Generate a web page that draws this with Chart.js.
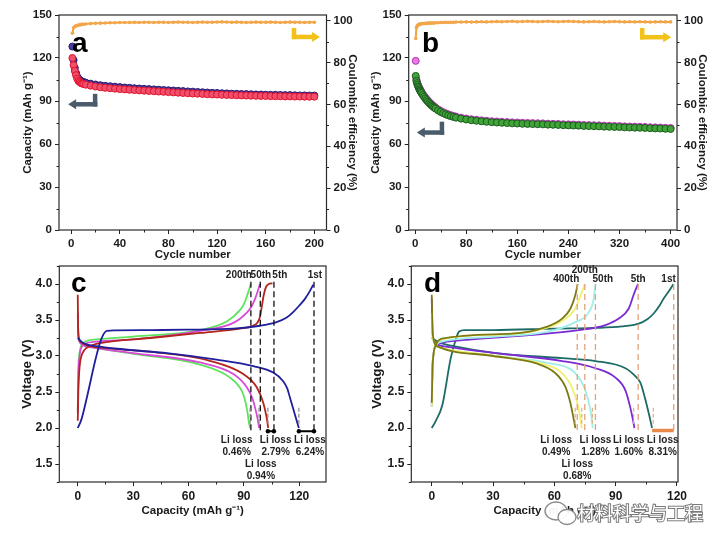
<!DOCTYPE html>
<html><head><meta charset="utf-8">
<script src="https://cdn.jsdelivr.net/npm/chart.js@4.4.0/dist/chart.umd.min.js"></script>
<style>
html,body{margin:0;padding:0;background:#fff;}
#wrap{position:relative;width:723px;height:547px;overflow:hidden;background:#fff;}
canvas{position:absolute;display:block;}
</style></head><body><div id="wrap">
<canvas id="ca" width="362" height="265" style="left:0;top:0;width:362px;height:265px"></canvas>
<canvas id="cb" width="361" height="265" style="left:362px;top:0;width:361px;height:265px"></canvas>
<canvas id="cc" width="362" height="292" style="left:0;top:255px;width:362px;height:292px"></canvas>
<canvas id="cd" width="361" height="292" style="left:362px;top:255px;width:361px;height:292px"></canvas>
</div>
<script>
// ---------------- DATA ----------------
// panel a : cycling, 200 cycles
const aCycles = [1,2,3,4,5,6,7,8,9,10,12,16,20,24,28,32,36,40,44,48,52,56,60,64,68,72,76,80,84,88,92,96,100,104,108,112,116,120,124,128,132,136,140,144,148,152,156,160,164,168,172,176,180,184,188,192,196,200];
const aCharge = [128,118.5,113,109.5,107,105.5,104.6,104,103.6,103.3, 102.8,102.1,101.5,101,100.6,100.3,100,99.7,99.4,99.2, 98.9,98.7,98.5,98.3,98.1,97.9,97.7,97.5,97.3,97.1, 96.9,96.7,96.5,96.3,96.1,95.9,95.7,95.6,95.4,95.3, 95.1,95,94.9,94.8,94.7,94.6,94.5,94.4,94.3,94.3, 94.2,94.1,94.1,94,93.9,93.9,93.8,93.8];
const aDischarge = [120,115,111,108,105.5,104,103.2,102.6,102.2,101.9, 101.4,100.7,100.1,99.6,99.2,98.9,98.6,98.3,98.1,97.8, 97.6,97.4,97.2,97,96.8,96.6,96.4,96.2,96,95.8, 95.6,95.4,95.2,95.1,94.9,94.7,94.6,94.5,94.3,94.2, 94.1,94,93.9,93.8,93.7,93.6,93.5,93.5,93.4,93.3, 93.3,93.2,93.2,93.1,93.1,93,93,93];
const aCE = [94,96.6,97.2,97.5,97.7,97.9,98,98.1,98.2,98.3, 98.4,98.6,98.7,98.8,98.9,99,99,99.1,99.1,99.1, 99.2,99.1,99.2,99.2,99.1,99.2,99.2,99.1,99.2,99.3, 99.2,99.2,99.1,99.2,99.3,99.2,99.2,99.3,99.4,99.3, 99.2,99.3,99.2,99.1,99.2,99.3,99.2,99.2,99.3,99.2, 99.1,99.2,99.3,99.2,99.2,99.1,99.2,99.2];
// panel b : cycling, 400 cycles
const bCycles = [1,2,3,4,5,6,7,8,9,10,12,14,16,18,20,22,24,26,28,30,32,36,40,44,48,52,56,60,64,72,80,88,96,104,112,120,128,136,144,152,160,168,176,184,192,200,208,216,224,232,240,248,256,264,272,280,288,296,304,312,320,328,336,344,352,360,368,376,384,392,400];
const bDischarge = [107.5,104,102.5,101.2,100,99,98,97.2,96.4,95.6, 94.2,92.9,91.7,90.6,89.6,88.6,87.7,86.9,86.1,85.4,84.7, 83.5,82.4,81.5,80.7,80,79.4,78.9,78.4, 77.7,77.1,76.6,76.2,75.8,75.5,75.2,75,74.8,74.6,74.4,74.3,74.1,74,73.9,73.8,73.7,73.5,73.4,73.3,73.1,73,72.9,72.8,72.6,72.5,72.4,72.3,72.1,72,71.9,71.8,71.6,71.5,71.4,71.3,71.2,71,70.9,70.8,70.6,70.5];
const bCharge = [118,105.2,103.3,101.9,100.7,99.7,98.7,97.9,97.1,96.3, 94.9,93.6,92.4,91.3,90.3,89.3,88.4,87.6,86.8,86.1,85.4, 84.2,83.1,82.2,81.4,80.7,80.1,79.6,79.1, 78.4,77.8,77.3,76.9,76.5,76.2,75.9,75.7,75.5,75.3,75.1,75,74.8,74.7,74.6,74.5,74.4,74.2,74.1,74,73.8,73.7,73.6,73.5,73.3,73.2,73.1,73,72.8,72.7,72.6,72.5,72.3,72.2,72.1,72,71.9,71.7,71.6,71.5,71.3,71.2];
const bCE = [91.5,96.5,97.3,97.7,98,98.2,98.3,98.4,98.5,98.5, 98.6,98.6,98.7,98.7,98.8,98.8,98.8,98.9,98.9,98.9,99, 99,99.1,99.1,99.2,99.1,99.2,99.2,99.3, 99.3,99.4,99.3,99.4,99.5,99.4,99.5,99.6,99.5,99.6, 99.7,99.5,99.6,99.7,99.6,99.5,99.6,99.7,99.6,99.5, 99.6,99.7,99.6,99.5,99.4,99.5,99.6,99.5,99.4,99.5, 99.6,99.5,99.4,99.5,99.4,99.5,99.4,99.3,99.4,99.5, 99.4,99.4];

// panel c : voltage profiles (capacity, voltage)
const c1ChgCap = [0,2,4.9,9.4,12,13.9,15.7,20,40,59,84.3,98.7,107.7,113,116.7,120,123,125.5,127.6];
const c1ChgV   = [2.0,2.12,2.42,2.93,3.18,3.30,3.35,3.355,3.36,3.365,3.38,3.42,3.47,3.53,3.61,3.70,3.79,3.89,3.99];
const c1DisCap = [0,3,12.1,30,48.2,75.2,95.1,105.9,111.3,113.5,115,117.6,119.8];
const c1DisV   = [3.25,3.18,3.13,3.08,3.04,2.95,2.86,2.77,2.65,2.55,2.42,2.19,2.0];
const c5ChgCap = [0,0.3,1,2,3.5,6,12.1,39.1,66.2,87.9,95,97.5,98.8,99.8,100.8,102,103.5,105.5];
const c5ChgV   = [2.1,2.5,2.85,3.0,3.08,3.13,3.18,3.25,3.32,3.38,3.42,3.47,3.55,3.7,3.85,3.96,4.0,4.01];
const c5DisCap = [0,0.2,0.6,1.5,4.9,20,39.1,72,89.7,96.9,100.5,102.3,103.2];
const c5DisV   = [3.85,3.4,3.25,3.2,3.15,3.1,3.06,2.93,2.75,2.57,2.35,2.15,2.0];
const c50ChgCap = [0,0.3,1,2,4,10,30.1,66.2,84.3,91.5,94,96,97.5,98.7];
const c50ChgV   = [2.2,2.7,3.0,3.12,3.17,3.2,3.23,3.35,3.46,3.6,3.68,3.79,3.9,4.0];
const c50DisCap = [0,0.3,1,3,8,30.1,66.2,84.3,91.5,94.5,96,97.5,98.3];
const c50DisV   = [3.6,3.3,3.2,3.15,3.12,3.04,2.91,2.75,2.57,2.42,2.29,2.12,2.0];
const c200ChgCap = [0,0.3,1,2,4,10,30.1,66.2,80.7,88,90,91.5,92.8,93.7];
const c200ChgV   = [2.25,2.8,3.05,3.15,3.2,3.23,3.27,3.36,3.48,3.64,3.72,3.82,3.92,4.0];
const c200DisCap = [0,0.3,1,3,8,30.1,66.2,82.5,88.8,90.5,91.8,92.6,93.3];
const c200DisV   = [3.55,3.3,3.2,3.15,3.12,3.03,2.88,2.70,2.52,2.4,2.24,2.1,2.0];

// panel d : voltage profiles (capacity, voltage)
const d1ChgCap = [0,2,5.2,9.3,12,13.4,16,30,60,80,93,101.3,105.5,108.6,111.5,113.5,116,118.3];
const d1ChgV   = [2.0,2.1,2.32,2.97,3.25,3.34,3.36,3.36,3.38,3.39,3.41,3.45,3.51,3.59,3.7,3.8,3.9,4.0];
const d1DisCap = [0,3.6,12,31.3,63.8,80.1,94.8,99.6,102.1,104.3,106.3,107.8];
const d1DisV   = [3.25,3.19,3.13,3.04,2.97,2.93,2.83,2.72,2.63,2.42,2.19,2.0];
const d5ChgCap = [0,0.3,1,2,4,15,47.6,72,85,91.5,96.4,98.8,100,101];
const d5ChgV   = [2.3,2.8,3.05,3.15,3.18,3.22,3.29,3.36,3.43,3.52,3.66,3.85,3.94,4.0];
const d5DisCap = [0,0.3,1,3.6,12,31.3,63.8,80.1,89.9,94.8,97.2,98.4,99.2];
const d5DisV   = [3.8,3.4,3.22,3.15,3.11,3.04,2.93,2.83,2.70,2.52,2.28,2.12,2.0];
const d50ChgCap = [0,0.5,2,5,31.3,55.7,70.3,76.9,79.3,80.1];
const d50ChgV   = [2.3,2.9,3.15,3.2,3.27,3.33,3.47,3.61,3.8,4.0];
const d50DisCap = [0,0.5,3.6,31.3,57.3,70.3,75.2,77.7,78.8];
const d50DisV   = [3.55,3.25,3.12,3.0,2.9,2.76,2.52,2.24,2.0];
const d200ChgCap = [0,0.5,2,5,35,55,64.5,70,73,74.9];
const d200ChgV   = [2.3,2.9,3.15,3.23,3.3,3.38,3.5,3.65,3.85,4.0];
const d200DisCap = [0,0.5,3.6,31.3,53,63.5,68.5,71.5,72.8,73.4];
const d200DisV   = [3.6,3.25,3.12,3.0,2.9,2.77,2.57,2.32,2.12,2.0];
const d400ChgCap = [0,0.5,2,5,39.4,55.7,63.8,67.9,70.3,71.4];
const d400ChgV   = [2.35,2.9,3.15,3.24,3.31,3.40,3.52,3.66,3.85,4.0];
const d400DisCap = [0,0.5,3,30,50.8,60.6,65.4,67.9,70.3];
const d400DisV   = [3.85,3.3,3.13,3.0,2.9,2.76,2.57,2.34,2.0];

// tick labels
const abCapTicks = [0,30,60,90,120,150];
const abCETicks = [0,20,40,60,80,100];
const aXTicks = [0,40,80,120,160,200];
const bXTicks = [0,80,160,240,320,400];
const cdVTicks = [1.5,2.0,2.5,3.0,3.5,4.0];
const cdXTicks = [0,30,60,90,120];

// annotations (c, d)
const cCycleNames = ['200th','50th','5th','1st'];
const cCycleLabelCap = [87.3,99.2,109.5,128.5];
const cLossCap = [93.8,98.9,106.3,128];
const cEndCap = [93.4,98.2,103.0,119.8];
const cLossText = ['0.46%','0.94%','2.79%','6.24%'];
const cLossLabelCap = [86.1,99.2,107.2,125.8];
const dCycleNames = ['400th','200th','50th','5th','1st'];
const dCycleLabelCap = [65.8,74.9,83.7,101,115.9];
const dLossCap = [71.2,74.9,80.1,101,118.4];
const dEndCap = [70.2,73.4,78.6,98.8,108.4];
const dLossText = ['0.49%','0.68%','1.28%','1.60%','8.31%'];
const dLossLabelCap = [60.9,71.2,80.1,96.4,113];

// ---------------- HELPERS ----------------
const FONT = "'Liberation Sans', Arial, sans-serif";
const TXT = '#1a1a1a';
const zip = (xs, ys) => xs.map((x, i) => ({x, y: ys[i]}));

function scale(pos, min, max, ticks, fit, title, titlePad, tickSize, fmt, titleSize) {
  return {
    type: 'linear', position: pos, min, max,
    afterBuildTicks: s => { s.ticks = ticks.map(v => ({value: v})); },
    afterFit: s => { if (pos === 'bottom') s.height = fit; else s.width = fit; },
    grid: {display: true, drawOnChartArea: false, drawTicks: true, tickLength: 4, color: '#222', lineWidth: 1},
    border: {display: false},
    ticks: {color: TXT, font: {family: FONT, size: tickSize, weight: 'bold'}, padding: 3, autoSkip: false, maxRotation: 0,
      callback: v => fmt ? fmt(v) : String(v)},
    title: {display: true, text: title, color: TXT, font: {family: FONT, size: titleSize || 11.5, weight: 'bold'}, padding: titlePad}
  };
}

function deco(minorIds, extra) {
  return {
    id: 'deco',
    afterDraw(chart) {
      const ctx = chart.ctx, ca = chart.chartArea;
      ctx.save();
      ctx.strokeStyle = '#222'; ctx.lineWidth = 1;
      minorIds.forEach(id => {
        const s = chart.scales[id];
        const vals = s.ticks.map(t => t.value);
        const step = vals[1] - vals[0];
        ctx.beginPath();
        for (let k = -1; k < vals.length; k++) {
          const v = vals[0] + step * (k + 0.5);
          if (v < s.min || v > s.max) continue;
          const p = Math.round(s.getPixelForValue(v)) + 0.5;
          if (s.position === 'bottom') { ctx.moveTo(p, ca.bottom); ctx.lineTo(p, ca.bottom + 2.5); }
          else if (s.position === 'left') { ctx.moveTo(ca.left, p); ctx.lineTo(ca.left - 2.5, p); }
          else { ctx.moveTo(ca.right, p); ctx.lineTo(ca.right + 2.5, p); }
        }
        ctx.stroke();
      });
      ctx.lineWidth = 1.2; ctx.strokeStyle = '#2a2a2a';
      ctx.strokeRect(ca.left, ca.top, ca.right - ca.left, ca.bottom - ca.top);
      ctx.restore();
      if (extra) { ctx.save(); extra(chart, ctx); ctx.restore(); }
    }
  };
}

function lArrow(ctx, X, Y, xv, yTop, yH, xTip, color) {
  const px = X(xv), pt = Y(yTop), ph = Y(yH), tip = X(xTip);
  const dir = tip < px ? -1 : 1;
  ctx.strokeStyle = color; ctx.fillStyle = color; ctx.lineWidth = 4.5; ctx.lineCap = 'butt';
  ctx.beginPath(); ctx.moveTo(px, pt); ctx.lineTo(px, ph + 2.25); ctx.stroke();
  ctx.beginPath(); ctx.moveTo(px - dir * 2.25, ph); ctx.lineTo(tip - dir * 7, ph); ctx.stroke();
  ctx.beginPath(); ctx.moveTo(tip, ph); ctx.lineTo(tip - dir * 8, ph - 5); ctx.lineTo(tip - dir * 8, ph + 5); ctx.closePath(); ctx.fill();
}

function letter(ctx, t, x, y) {
  ctx.fillStyle = '#000'; ctx.font = "bold 28px " + FONT; ctx.textAlign = 'left'; ctx.textBaseline = 'alphabetic';
  ctx.fillText(t, x, y);
}

function lossLabel(ctx, X, Y, cap, pct, lower) {
  ctx.fillStyle = '#222'; ctx.font = "bold 10px " + FONT; ctx.textAlign = 'center'; ctx.textBaseline = 'middle';
  const y1 = lower ? Y(1.49) : Y(1.83), y2 = lower ? Y(1.33) : Y(1.665);
  ctx.fillText('Li loss', X(cap), y1);
  ctx.fillText(pct, X(cap), y2);
}

const common = {
  responsive: false, animation: false, devicePixelRatio: 1,
  plugins: {legend: {display: false}, tooltip: {enabled: false}},
};

const ceDs = (xs, ys) => ({data: zip(xs, ys), yAxisID: 'y1', showLine: true, borderColor: '#f1a23e', backgroundColor: '#f3a64a', borderWidth: 2, pointRadius: 1.8, pointBorderWidth: 0});

// ---------------- PANEL A ----------------
new Chart(document.getElementById('ca'), {
  type: 'scatter',
  data: {datasets: [
    ceDs(aCycles, aCE),
    {data: zip(aCycles, aDischarge), yAxisID: 'y', borderColor: '#e0142e', backgroundColor: '#f0506c', pointRadius: 3.5, pointBorderWidth: 1},
    {data: zip(aCycles, aCharge), yAxisID: 'y', borderColor: '#2b1b72', backgroundColor: '#4b3c9c', pointRadius: 3.5, pointBorderWidth: 1},
  ]},
  options: Object.assign({}, common, {
    layout: {padding: {top: 15, left: 0, right: 0, bottom: 0}},
    scales: {
      x: scale('bottom', -10, 210, aXTicks, 35, 'Cycle number', {top: 0, bottom: 3.4}, 11.5),
      y: scale('left', 0, 150, abCapTicks, 59, 'Capacity (mAh g\u207B\u00B9)', {top: 21, bottom: 0}, 11.5),
      y1: scale('right', 0, 102.7, abCETicks, 35.5, 'Coulombic efficiency (%)', {top: 2.7, bottom: 0}, 11.5),
    }
  }),
  plugins: [deco(['x', 'y', 'y1'], (chart, ctx) => {
    const X = v => chart.scales.x.getPixelForValue(v), Y = v => chart.scales.y.getPixelForValue(v);
    lArrow(ctx, X, Y, 19.7, 95, 87.7, -2.5, '#4a5b6c');
    lArrow(ctx, X, Y, 183.3, 141, 134.7, 204.7, '#f2c21a');
    letter(ctx, 'a', 72, 52);
  })]
});

// ---------------- PANEL B ----------------
new Chart(document.getElementById('cb'), {
  type: 'scatter',
  data: {datasets: [
    ceDs(bCycles, bCE),
    {data: zip(bCycles, bDischarge), yAxisID: 'y', borderColor: '#1e5a22', backgroundColor: '#3ea536', pointRadius: 3.5, pointBorderWidth: 1},
    {data: zip(bCycles, bCharge), yAxisID: 'y', borderColor: '#b436b4', backgroundColor: '#e27be2', pointRadius: 3.5, pointBorderWidth: 1},
  ]},
  options: Object.assign({}, common, {
    layout: {padding: {top: 15, left: 0, right: 0, bottom: 0}},
    scales: {
      x: scale('bottom', -10, 410, bXTicks, 35, 'Cycle number', {top: 0, bottom: 3.4}, 11.5),
      y: scale('left', 0, 150, abCapTicks, 46.7, 'Capacity (mAh g\u207B\u00B9)', {top: 6.7, bottom: 0}, 11.5),
      y1: scale('right', 0, 102.7, abCETicks, 46, 'Coulombic efficiency (%)', {top: 14.4, bottom: 0}, 11.5),
    }
  }),
  plugins: [deco(['x', 'y', 'y1'], (chart, ctx) => {
    const X = v => chart.scales.x.getPixelForValue(v), Y = v => chart.scales.y.getPixelForValue(v);
    lArrow(ctx, X, Y, 42, 75.6, 68, 2.7, '#4a5b6c');
    lArrow(ctx, X, Y, 355.6, 141, 134.5, 401, '#f2c21a');
    letter(ctx, 'b', 60, 52);
  })]
});

// ---------------- PANEL C ----------------
const lineDs = (xs, ys, color) => ({data: zip(xs, ys), showLine: true, borderColor: color, borderWidth: 1.8, pointRadius: 0, cubicInterpolationMode: 'monotone', fill: false});
const cdOpts = (leftFit, leftPad, xMax, rightPad) => Object.assign({}, common, {
  layout: {padding: {top: 11, left: 0, right: rightPad, bottom: 0}},
  scales: {
    x: scale('bottom', -10, xMax, cdXTicks, 65, 'Capacity (mAh g\u207B\u00B9)', {top: 0, bottom: 29.7}, 12),
    y: scale('left', 1.25, 4.25, cdVTicks, leftFit, 'Voltage (V)', {top: leftPad, bottom: 0}, 12, v => v.toFixed(1), 13.5),
  }
});

new Chart(document.getElementById('cc'), {
  type: 'scatter',
  data: {datasets: [
    lineDs(c1ChgCap, c1ChgV, '#1f1f9e'), lineDs(c1DisCap, c1DisV, '#1f1f9e'),
    lineDs(c5ChgCap, c5ChgV, '#b3241b'), lineDs(c5DisCap, c5DisV, '#b3241b'),
    lineDs(c50ChgCap, c50ChgV, '#d84ad8'), lineDs(c50DisCap, c50DisV, '#d84ad8'),
    lineDs(c200ChgCap, c200ChgV, '#5ee35e'), lineDs(c200DisCap, c200DisV, '#5ee35e'),
  ]},
  options: cdOpts(59.3, 19.2, 134.5, 36),
  plugins: [deco(['x', 'y'], (chart, ctx) => {
    const X = v => chart.scales.x.getPixelForValue(v), Y = v => chart.scales.y.getPixelForValue(v);
    ctx.lineWidth = 1.3; ctx.strokeStyle = '#111'; ctx.setLineDash([6, 3.5]);
    cLossCap.forEach(c => { ctx.beginPath(); ctx.moveTo(X(c), Y(4.03)); ctx.lineTo(X(c), Y(1.95)); ctx.stroke(); });
    ctx.strokeStyle = '#8a8a8a'; ctx.setLineDash([4, 2]); ctx.lineWidth = 1.2;
    cEndCap.forEach(c => { ctx.beginPath(); ctx.moveTo(X(c), Y(2.28)); ctx.lineTo(X(c), Y(2.05)); ctx.stroke(); });
    ctx.setLineDash([]); ctx.strokeStyle = '#000'; ctx.fillStyle = '#000'; ctx.lineWidth = 2;
    [[cEndCap[2], cLossCap[2]], [cEndCap[3], cLossCap[3]]].forEach(([a, b]) => {
      ctx.beginPath(); ctx.moveTo(X(a), Y(1.955)); ctx.lineTo(X(b), Y(1.955)); ctx.stroke();
      [a, b].forEach(v => { ctx.beginPath(); ctx.arc(X(v), Y(1.955), 2.2, 0, Math.PI * 2); ctx.fill(); });
    });
    ctx.fillStyle = '#222'; ctx.font = "bold 10px " + FONT; ctx.textAlign = 'center'; ctx.textBaseline = 'middle';
    cCycleNames.forEach((t, i) => ctx.fillText(t, X(cCycleLabelCap[i]), Y(4.12)));
    cLossText.forEach((t, i) => lossLabel(ctx, X, Y, cLossLabelCap[i], t, i === 1));
    letter(ctx, 'c', 71, 37);
  })]
});

// ---------------- PANEL D ----------------
new Chart(document.getElementById('cd'), {
  type: 'scatter',
  data: {datasets: [
    lineDs(d400ChgCap, d400ChgV, '#7d7a14'), lineDs(d400DisCap, d400DisV, '#7d7a14'),
    lineDs(d200ChgCap, d200ChgV, '#f0f070'), lineDs(d200DisCap, d200DisV, '#f0f070'),
    lineDs(d50ChgCap, d50ChgV, '#9fefe8'), lineDs(d50DisCap, d50DisV, '#9fefe8'),
    lineDs(d5ChgCap, d5ChgV, '#7b2bd4'), lineDs(d5DisCap, d5DisV, '#7b2bd4'),
    lineDs(d1ChgCap, d1ChgV, '#1d6b66'), lineDs(d1DisCap, d1DisV, '#1d6b66'),
  ]},
  options: cdOpts(49.3, 7.5, 120.5, 45),
  plugins: [deco(['x', 'y'], (chart, ctx) => {
    const X = v => chart.scales.x.getPixelForValue(v), Y = v => chart.scales.y.getPixelForValue(v);
    ctx.lineWidth = 1.3; ctx.strokeStyle = '#e3a27a'; ctx.setLineDash([6, 4]);
    dLossCap.forEach(c => { ctx.beginPath(); ctx.moveTo(X(c), Y(4.0)); ctx.lineTo(X(c), Y(1.95)); ctx.stroke(); });
    ctx.strokeStyle = '#e2b27a'; ctx.setLineDash([4, 2]); ctx.lineWidth = 1.2;
    dEndCap.forEach(c => { ctx.beginPath(); ctx.moveTo(X(c), Y(2.28)); ctx.lineTo(X(c), Y(2.05)); ctx.stroke(); });
    ctx.setLineDash([]); ctx.strokeStyle = '#e8894a'; ctx.lineWidth = 3.5;
    ctx.beginPath(); ctx.moveTo(X(107.8), Y(1.965)); ctx.lineTo(X(118.4), Y(1.965)); ctx.stroke();
    ctx.fillStyle = '#222'; ctx.font = "bold 10px " + FONT; ctx.textAlign = 'center'; ctx.textBaseline = 'middle';
    dCycleNames.forEach((t, i) => ctx.fillText(t, X(dCycleLabelCap[i]), Y(i === 1 ? 4.19 : 4.06)));
    dLossText.forEach((t, i) => lossLabel(ctx, X, Y, dLossLabelCap[i], t, i === 1));
    letter(ctx, 'd', 62, 37);
    // watermark
    ctx.lineWidth = 1.3; ctx.strokeStyle = '#8a8a8a'; ctx.fillStyle = 'rgba(255,255,255,0.95)';
    ctx.beginPath(); ctx.ellipse(194, 256, 11, 9, 0, 0, Math.PI * 2); ctx.fill(); ctx.stroke();
    ctx.beginPath(); ctx.ellipse(205, 262, 9, 7.5, 0, 0, Math.PI * 2); ctx.fill(); ctx.stroke();
    ctx.font = "18px 'Noto Sans CJK SC', sans-serif"; ctx.textAlign = 'left'; ctx.textBaseline = 'middle';
    ctx.lineWidth = 2; ctx.strokeStyle = '#7a7a7a'; ctx.strokeText('材料科学与工程', 215, 258);
    ctx.fillStyle = '#ffffff'; ctx.fillText('材料科学与工程', 215, 258);
  })]
});
</script>
</body></html>
